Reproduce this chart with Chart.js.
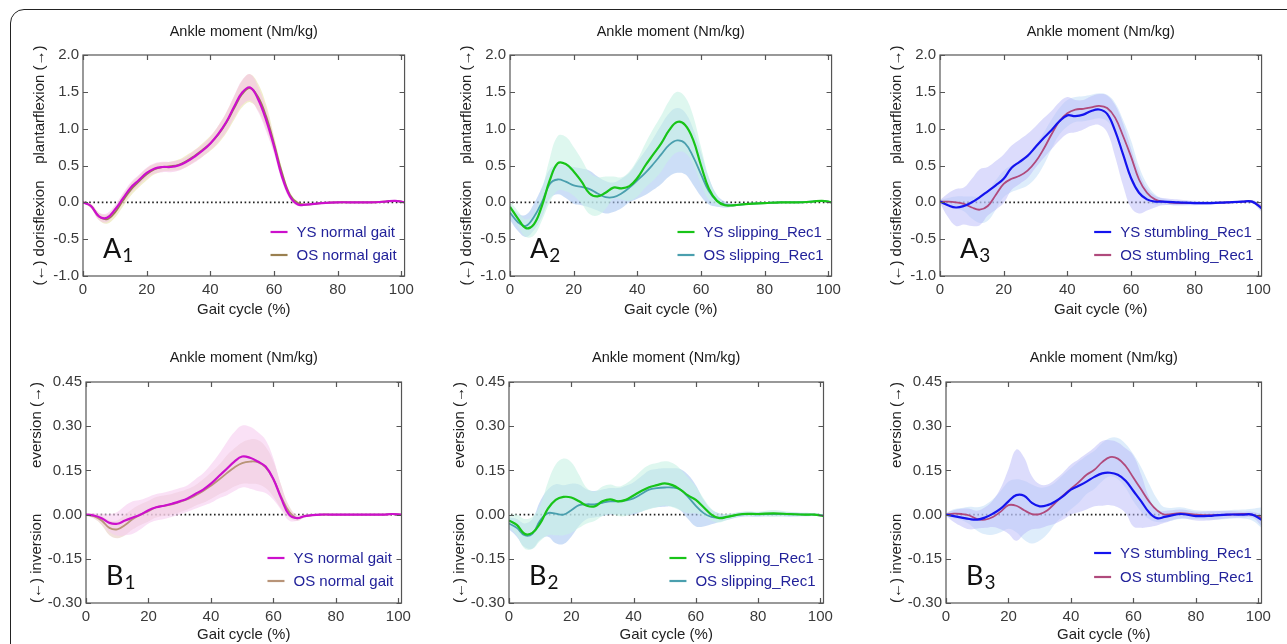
<!DOCTYPE html>
<html><head><meta charset="utf-8">
<script src="https://cdn.jsdelivr.net/npm/chart.js@4.4.1/dist/chart.umd.min.js"></script>
<style>
body{margin:0;width:1287px;height:644px;overflow:hidden;background:#fff;position:relative}
#frame{position:absolute;left:10px;top:9px;width:1320px;height:700px;border:1.5px solid #222;border-radius:14px;box-sizing:border-box}
canvas{position:absolute}
</style></head><body><div id="frame"></div>
<script>
// Gait cycle sample positions (%)
const gaitX = [0,2.5,5,7.5,10,12.5,15,17.5,20,22.5,25,27.5,30,32.5,35,37.5,40,42.5,45,47.5,50,52.5,55,57.5,60,62.5,65,67.5,70,75,80,85,90,95,98,101];
const xTicks = [0,20,40,60,80,100];
const yTicksA = [-1.0,-0.5,0.0,0.5,1.0,1.5,2.0];
const yTicksB = [-0.30,-0.15,0.00,0.15,0.30,0.45];

// A1 normal gait (sagittal)
const a1YsMean = [0,-0.05,-0.19,-0.21,-0.10,0.05,0.20,0.30,0.40,0.46,0.48,0.48,0.50,0.55,0.62,0.70,0.80,0.93,1.09,1.30,1.49,1.56,1.40,1.12,0.76,0.35,0.08,-0.03,-0.03,-0.01,0,0,0,0.01,0.02,0];
const a1YsSd   = [0.01,0.03,0.05,0.06,0.06,0.07,0.07,0.07,0.07,0.07,0.07,0.07,0.07,0.07,0.08,0.08,0.09,0.11,0.13,0.15,0.17,0.18,0.17,0.15,0.10,0.06,0.04,0.02,0.01,0.01,0.01,0.01,0.01,0.01,0.01,0.01];
const a1OsMean = [0,-0.05,-0.19,-0.23,-0.14,0.02,0.17,0.28,0.38,0.45,0.48,0.49,0.51,0.56,0.63,0.71,0.80,0.92,1.08,1.28,1.47,1.55,1.43,1.17,0.80,0.40,0.10,-0.01,-0.03,-0.01,0,0,0,0.01,0.02,0];
const a1OsSd   = [0.01,0.03,0.05,0.06,0.07,0.08,0.08,0.08,0.08,0.07,0.06,0.06,0.07,0.08,0.08,0.09,0.10,0.12,0.14,0.16,0.18,0.19,0.18,0.16,0.10,0.06,0.04,0.02,0.01,0.01,0.01,0.01,0.01,0.01,0.01,0.01];

// A2 slipping (sagittal)
const a2YsMean = [-0.06,-0.22,-0.35,-0.30,-0.05,0.30,0.53,0.52,0.42,0.28,0.12,0.08,0.13,0.20,0.19,0.22,0.33,0.50,0.65,0.80,0.98,1.09,1.05,0.85,0.50,0.18,0.02,-0.04,-0.04,-0.02,-0.01,0,0,0.01,0.02,0];
const a2YsSd   = [0.08,0.10,0.12,0.15,0.20,0.30,0.37,0.37,0.33,0.30,0.28,0.26,0.22,0.15,0.15,0.20,0.25,0.30,0.35,0.38,0.40,0.41,0.38,0.33,0.25,0.15,0.06,0.03,0.02,0.01,0.01,0.01,0.01,0.01,0.01,0.01];
const a2OsMean = [-0.14,-0.27,-0.32,-0.20,0.00,0.25,0.31,0.28,0.23,0.21,0.18,0.12,0.07,0.07,0.12,0.20,0.30,0.40,0.52,0.65,0.78,0.84,0.80,0.62,0.38,0.15,0.02,-0.03,-0.04,-0.02,-0.01,0,0,0.01,0.02,0];
const a2OsSd   = [0.10,0.12,0.15,0.18,0.20,0.20,0.20,0.22,0.25,0.25,0.25,0.23,0.22,0.20,0.20,0.20,0.25,0.30,0.35,0.40,0.43,0.44,0.42,0.38,0.30,0.18,0.08,0.04,0.02,0.01,0.01,0.01,0.01,0.01,0.01,0.01];

// A3 stumbling (sagittal)
const a3YsMean = [0.01,-0.04,-0.07,-0.05,0.00,0.07,0.15,0.23,0.32,0.47,0.55,0.63,0.75,0.87,0.98,1.10,1.18,1.17,1.19,1.24,1.26,1.20,0.97,0.65,0.33,0.13,0.04,0.01,0.01,0.00,-0.01,-0.01,0.00,0.01,0.01,-0.08];
const a3YsSd   = [0.02,0.16,0.25,0.25,0.32,0.38,0.33,0.33,0.33,0.30,0.30,0.30,0.28,0.27,0.26,0.26,0.25,0.22,0.20,0.20,0.21,0.25,0.35,0.42,0.40,0.28,0.15,0.08,0.05,0.04,0.03,0.02,0.01,0.01,0.02,0.05];
const a3OsMean = [0.01,0.01,0.00,-0.02,-0.07,-0.10,-0.05,0.10,0.25,0.32,0.36,0.43,0.55,0.72,0.92,1.10,1.21,1.26,1.27,1.29,1.31,1.28,1.15,0.90,0.62,0.31,0.13,0.04,0.01,-0.01,-0.01,-0.01,0,0.01,0.01,-0.07];
const a3OsSd   = [0.02,0.05,0.08,0.10,0.15,0.18,0.20,0.20,0.18,0.18,0.18,0.20,0.22,0.22,0.20,0.18,0.18,0.17,0.17,0.17,0.17,0.18,0.20,0.22,0.22,0.18,0.12,0.07,0.04,0.03,0.02,0.02,0.01,0.01,0.02,0.04];

// B1 normal gait (frontal)
const b1YsMean = [0,-0.003,-0.012,-0.028,-0.031,-0.02,-0.01,0.0,0.015,0.025,0.03,0.037,0.045,0.055,0.07,0.085,0.105,0.13,0.155,0.18,0.197,0.193,0.18,0.163,0.12,0.055,0.0,-0.012,-0.005,0,0,0,0,0,0.002,0];
const b1YsSd   = [0.005,0.008,0.015,0.03,0.04,0.05,0.055,0.05,0.045,0.045,0.045,0.045,0.045,0.045,0.05,0.055,0.065,0.075,0.09,0.10,0.105,0.105,0.10,0.09,0.07,0.04,0.02,0.01,0.005,0.003,0.003,0.003,0.003,0.003,0.003,0.003];
const b1OsMean = [0,-0.005,-0.02,-0.045,-0.05,-0.035,-0.015,0.0,0.012,0.025,0.03,0.035,0.043,0.052,0.065,0.08,0.098,0.118,0.14,0.16,0.175,0.18,0.178,0.16,0.12,0.06,0.01,-0.012,-0.005,0,0,0,0,0,0.002,0];
const b1OsSd   = [0.005,0.008,0.015,0.025,0.03,0.035,0.035,0.035,0.035,0.035,0.035,0.035,0.035,0.035,0.035,0.04,0.045,0.05,0.06,0.065,0.07,0.075,0.075,0.07,0.06,0.04,0.02,0.01,0.005,0.003,0.003,0.003,0.003,0.003,0.003,0.003];

// B2 slipping (frontal)
const b2YsMean = [-0.02,-0.035,-0.065,-0.062,-0.03,0.02,0.05,0.06,0.058,0.045,0.03,0.028,0.045,0.052,0.045,0.05,0.065,0.08,0.093,0.10,0.106,0.10,0.085,0.065,0.05,0.025,0.0,-0.012,-0.008,0.002,0.002,0.004,0.002,0.0,0.0,-0.005];
const b2YsSd   = [0.02,0.035,0.05,0.055,0.06,0.09,0.12,0.13,0.12,0.09,0.06,0.05,0.05,0.05,0.05,0.055,0.06,0.07,0.075,0.075,0.075,0.075,0.07,0.06,0.045,0.03,0.02,0.015,0.01,0.008,0.008,0.012,0.008,0.005,0.004,0.004];
const b2OsMean = [-0.03,-0.045,-0.07,-0.065,-0.02,0.005,0.003,0.0,0.015,0.032,0.035,0.035,0.04,0.045,0.045,0.048,0.055,0.07,0.085,0.09,0.092,0.092,0.085,0.06,0.03,0.005,-0.008,-0.01,-0.008,0.001,0.001,0.002,0.001,0,0,-0.003];
const b2OsSd   = [0.02,0.03,0.04,0.05,0.065,0.08,0.10,0.10,0.09,0.07,0.05,0.045,0.045,0.045,0.045,0.05,0.055,0.06,0.065,0.065,0.065,0.065,0.07,0.075,0.07,0.045,0.025,0.015,0.01,0.008,0.008,0.008,0.008,0.006,0.005,0.005];

// B3 stumbling (frontal)
const b3YsMean = [0,-0.005,-0.01,-0.015,-0.017,-0.01,0.003,0.02,0.045,0.066,0.064,0.04,0.028,0.032,0.045,0.063,0.085,0.098,0.112,0.128,0.14,0.142,0.135,0.115,0.08,0.045,0.008,-0.012,-0.008,0.002,-0.005,-0.004,0,0,0,-0.018];
const b3YsSd   = [0.005,0.02,0.03,0.035,0.03,0.035,0.045,0.07,0.11,0.155,0.13,0.09,0.075,0.07,0.075,0.08,0.085,0.09,0.095,0.10,0.11,0.11,0.11,0.11,0.12,0.09,0.05,0.025,0.02,0.015,0.015,0.015,0.012,0.01,0.01,0.02];
const b3OsMean = [0,0.003,0.002,-0.003,-0.015,-0.017,-0.008,0.01,0.032,0.03,0.015,0.002,0.002,0.015,0.04,0.065,0.088,0.11,0.135,0.152,0.178,0.195,0.19,0.165,0.125,0.085,0.045,0.015,0.0,0.005,0.0,-0.002,0,0.002,0,-0.01];
const b3OsSd   = [0.005,0.015,0.02,0.03,0.04,0.05,0.06,0.07,0.08,0.09,0.10,0.10,0.09,0.08,0.07,0.07,0.07,0.07,0.065,0.065,0.065,0.065,0.07,0.075,0.08,0.075,0.06,0.04,0.025,0.02,0.015,0.015,0.015,0.015,0.02,0.035];

const FONT = '"Liberation Sans", Arial, sans-serif';
Chart.defaults.font.family = FONT;

const decorPlugin = {
  id: 'decor',
  beforeDatasetsDraw(chart) {
    const ctx = chart.ctx, a = chart.chartArea;
    const y0 = chart.scales.y.getPixelForValue(0);
    ctx.save();
    ctx.strokeStyle = '#222'; ctx.lineWidth = 1.6; ctx.setLineDash([1.6, 2.6]);
    ctx.beginPath(); ctx.moveTo(a.left + 2, y0); ctx.lineTo(a.right - 2, y0); ctx.stroke();
    ctx.restore();
  },
  afterDraw(chart) {
    const o = chart.options.plugins.decor, ctx = chart.ctx, a = chart.chartArea;
    const xs = chart.scales.x, ys = chart.scales.y;
    ctx.save();
    ctx.strokeStyle = '#555'; ctx.lineWidth = 1.2;
    ctx.strokeRect(a.left, a.top, a.right - a.left, a.bottom - a.top);
    ctx.beginPath();
    xTicks.forEach(v => { const px = Math.round(xs.getPixelForValue(v)) + 0.5;
      ctx.moveTo(px, a.bottom); ctx.lineTo(px, a.bottom - 5);
      ctx.moveTo(px, a.top); ctx.lineTo(px, a.top + 5); });
    o.yTicks.forEach(v => { const py = Math.round(ys.getPixelForValue(v)) + 0.5;
      ctx.moveTo(a.left, py); ctx.lineTo(a.left + 5, py);
      ctx.moveTo(a.right, py); ctx.lineTo(a.right - 5, py); });
    ctx.stroke();
    ctx.fillStyle = '#1a1a1a'; ctx.font = '14.5px ' + FONT; ctx.textAlign = 'center'; ctx.textBaseline = 'middle';
    ctx.fillText('Ankle moment (Nm/kg)', (a.left + a.right) / 2, a.top - o.titleOff);
    ctx.font = '15px ' + FONT; ctx.textAlign = 'left';
    const ds = chart.data.datasets.filter(d => d.legend);
    const maxW = Math.max(...ds.map(d => ctx.measureText(d.label).width));
    const tx = a.right - 8 - maxW;
    ds.forEach((d, i) => {
      const yy = a.bottom + o.legendRows[i];
      ctx.strokeStyle = d.borderColor; ctx.lineWidth = 2.2;
      ctx.beginPath(); ctx.moveTo(tx - 26, yy); ctx.lineTo(tx - 9, yy); ctx.stroke();
      ctx.fillStyle = '#22229a'; ctx.fillText(d.label, tx, yy + 1);
    });
    ctx.fillStyle = '#111'; ctx.textBaseline = 'alphabetic';
    ctx.font = '27px Lato, "Open Sans", sans-serif';
    const lx = a.left + 20, ly = a.bottom - 18;
    ctx.fillText(o.letter, lx, ly);
    const w = ctx.measureText(o.letter).width;
    ctx.font = '19px Lato, "Open Sans", sans-serif';
    ctx.fillText(o.sub, lx + w + 1, ly + 4);
    ctx.restore();
  }
};

function series(mean, sd, k) { return gaitX.map((x, i) => ({ x, y: mean[i] + k * sd[i] })); }

function makePanel(geo, p) {
  const padL = 60, padT = 35, padR = 10, padB = 45;
  const c = document.createElement('canvas');
  c.width = geo.R - geo.L + padL + padR;
  c.height = geo.B - geo.T + padT + padB;
  c.style.left = (geo.L - padL) + 'px';
  c.style.top = (geo.T - padT) + 'px';
  c.style.width = c.width + 'px'; c.style.height = c.height + 'px';
  document.body.appendChild(c);
  const line = (label, mean, color, w, order) => ({ label, legend: true, data: series(mean, mean.map(() => 0), 0),
    borderColor: color, borderWidth: w, pointRadius: 0, fill: false, tension: 0.4, order });
  const band = (mean, sd, color, order) => ([
    { data: series(mean, sd, 1), borderWidth: 0, pointRadius: 0, backgroundColor: color, fill: '+1', tension: 0.4, order },
    { data: series(mean, sd, -1), borderWidth: 0, pointRadius: 0, fill: false, tension: 0.4, order }
  ]);
  const datasets = [
    line(p.ysLabel, p.ysMean, p.ysColor, 2.2, 0),
    line(p.osLabel, p.osMean, p.osColor, 1.8, 1),
    ...band(p.osMean, p.osSd, p.osBand, 3),
    ...band(p.ysMean, p.ysSd, p.ysBand, 2)
  ];
  new Chart(c, {
    type: 'line',
    data: { datasets },
    options: {
      responsive: false, animation: false, devicePixelRatio: 1,
      layout: { padding: { left: 0, top: padT, right: padR, bottom: 0 } },
      plugins: { legend: { display: false }, tooltip: { enabled: false },
        decor: { yTicks: p.yTicks, letter: p.letter, sub: p.sub, titleOff: p.titleOff, legendRows: p.legendRows } },
      scales: {
        x: { type: 'linear', min: 0, max: 101,
          afterBuildTicks: s => { s.ticks = xTicks.map(v => ({ value: v })); },
          afterFit: s => { s.height = padB; },
          grid: { display: false, drawTicks: false }, border: { display: false },
          ticks: { padding: 5, color: '#3a3a3a', font: { size: 15 } },
          title: { display: true, text: 'Gait cycle (%)', color: '#222', font: { size: 15 }, padding: { top: 0, bottom: p.xTitlePad } } },
        y: { type: 'linear', min: p.yTicks[0], max: p.yTicks[p.yTicks.length - 1],
          afterBuildTicks: s => { s.ticks = p.yTicks.map(v => ({ value: v })); },
          afterFit: s => { s.width = padL; },
          grid: { display: false, drawTicks: false }, border: { display: false },
          ticks: { padding: 4, color: '#3a3a3a', font: { size: 15 }, callback: v => Number(v).toFixed(p.dec) },
          title: { display: true, text: p.yTitle, color: '#222', font: { size: 15 }, padding: { top: p.yTitlePad, bottom: 0 } } }
      }
    },
    plugins: [decorPlugin]
  });
}

const NB = n => '\u00A0'.repeat(n);
const titleA = '(\u2190) dorisflexion' + NB(4) + 'plantarflexion (\u2192)';
const titleB = '(\u2190) inversion' + NB(11) + 'eversion (\u2192)';
const rowsA = [-44, -21], rowsB = [-45, -22];
const commonA = { yTicks: yTicksA, dec: 1, yTitle: titleA, yTitlePad: 8, xTitlePad: 2, titleOff: 23, legendRows: rowsA, letter: 'A' };
const commonB = { yTicks: yTicksB, dec: 2, yTitle: titleB, yTitlePad: 2, xTitlePad: 4, titleOff: 24, legendRows: rowsB, letter: 'B' };

const normal = { ysLabel: 'YS normal gait', osLabel: 'OS normal gait', ysColor: '#cc10cc', osColor: '#9a8050' };
const slip = { ysLabel: 'YS slipping_Rec1', osLabel: 'OS slipping_Rec1', ysColor: '#18c418', osColor: '#4a9fae',
  ysBand: 'rgba(200,242,228,0.6)', osBand: 'rgba(170,200,242,0.6)' };
const stum = { ysLabel: 'YS stumbling_Rec1', osLabel: 'OS stumbling_Rec1', ysColor: '#1414ee', osColor: '#b04a7c',
  ysBand: 'rgba(185,185,250,0.5)', osBand: 'rgba(190,220,248,0.5)' };

makePanel({ L: 83, R: 409, T: 55, B: 276 }, { ...commonA, ...normal, sub: '1',
  ysBand: 'rgba(245,195,232,0.6)', osBand: 'rgba(232,226,170,0.6)',
  ysMean: a1YsMean, ysSd: a1YsSd, osMean: a1OsMean, osSd: a1OsSd });
makePanel({ L: 510, R: 836, T: 55, B: 276 }, { ...commonA, ...slip, sub: '2',
  ysMean: a2YsMean, ysSd: a2YsSd, osMean: a2OsMean, osSd: a2OsSd });
makePanel({ L: 940, R: 1266, T: 55, B: 276 }, { ...commonA, ...stum, sub: '3',
  ysMean: a3YsMean, ysSd: a3YsSd, osMean: a3OsMean, osSd: a3OsSd });
makePanel({ L: 86, R: 406, T: 382, B: 603 }, { ...commonB, ...normal, sub: '1', osColor: '#b89478',
  ysBand: 'rgba(246,205,240,0.6)', osBand: 'rgba(232,205,195,0.6)',
  ysMean: b1YsMean, ysSd: b1YsSd, osMean: b1OsMean, osSd: b1OsSd });
makePanel({ L: 509, R: 828, T: 382, B: 603 }, { ...commonB, ...slip, sub: '2',
  ysMean: b2YsMean, ysSd: b2YsSd, osMean: b2OsMean, osSd: b2OsSd });
makePanel({ L: 946, R: 1266, T: 382, B: 603 }, { ...commonB, ...stum, sub: '3', legendRows: [-50, -26],
  ysMean: b3YsMean, ysSd: b3YsSd, osMean: b3OsMean, osSd: b3OsSd });
</script>
</body></html>
